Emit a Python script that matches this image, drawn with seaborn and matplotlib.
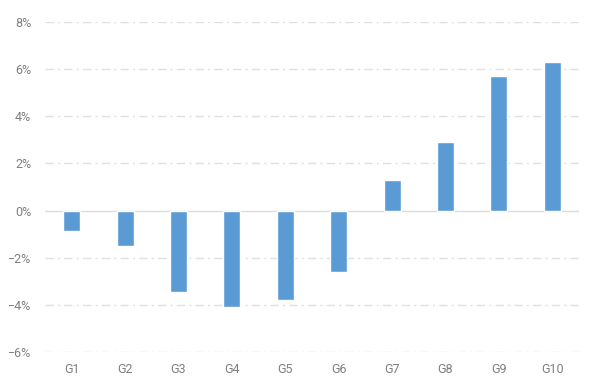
import matplotlib
matplotlib.use("Agg")
import matplotlib.pyplot as plt
import seaborn as sns
import pandas as pd
from matplotlib.ticker import FuncFormatter

groups = ["G1", "G2", "G3", "G4", "G5", "G6", "G7", "G8", "G9", "G10"]
values = [-0.85, -1.5, -3.45, -4.1, -3.8, -2.6, 1.3, 2.9, 5.7, 6.3]
yticks = [-6, -4, -2, 0, 2, 4, 6, 8]

df = pd.DataFrame({"group": groups, "value": values})

sns.set_theme(style="white")
plt.rcParams["font.family"] = ["Roboto", "DejaVu Sans"]

fig = plt.figure(figsize=(5.91, 3.81), dpi=100, facecolor="white")
ax = fig.add_axes([45 / 591, 1 - 352 / 381, (579 - 45) / 591, (352 - 22) / 381])
ax.set_facecolor("white")

sns.barplot(data=df, x="group", y="value", color="#5B9BD5", saturation=1,
            width=0.32, ax=ax, zorder=3)

ax.set_ylim(-6, 8)
ax.set_xlim(-0.5, len(groups) - 0.5)
ax.set_yticks(yticks)
ax.yaxis.set_major_formatter(FuncFormatter(lambda v, p: f"{int(v)}%".replace("-", "\u2212")))
for y in yticks:
    if y == 0:
        ax.axhline(0, color="#dcdcdc", lw=1, zorder=2)
    else:
        ax.axhline(y, color="#e0e0e0", lw=1, ls=(0, (6, 3, 1.5, 3)), zorder=1)

for s in ax.spines.values():
    s.set_visible(False)
ax.set_xlabel("")
ax.set_ylabel("")
ax.tick_params(axis="both", length=0, labelsize=9, colors="#7f7f7f")
ax.tick_params(axis="y", pad=10)
ax.tick_params(axis="x", pad=8)

fig.savefig("out.png", dpi=100, facecolor="white")
